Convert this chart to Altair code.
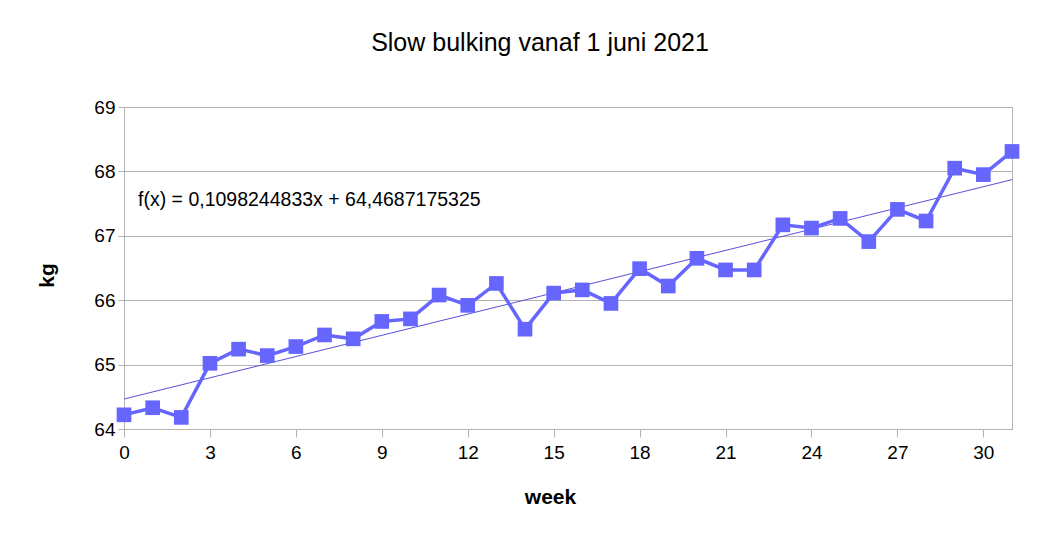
import altair as alt
import pandas as pd

weeks = list(range(32))
kg = [64.22, 64.33, 64.18, 65.02, 65.24, 65.14, 65.28, 65.46, 65.40, 65.67,
      65.71, 66.08, 65.92, 66.26, 65.55, 66.11, 66.16, 65.95, 66.49, 66.22,
      66.65, 66.47, 66.47, 67.17, 67.12, 67.27, 66.91, 67.41, 67.23, 68.05,
      67.95, 68.31]
x_ticks = list(range(0, 31, 3))
y_ticks = [64, 65, 66, 67, 68, 69]
title = "Slow bulking vanaf 1 juni 2021"
formula = "f(x) = 0,1098244833x + 64,4687175325"

df = pd.DataFrame({"week": weeks, "kg": kg})

FONT = "Liberation Sans"
COL = "#6666ff"
GRID = "#b3b3b3"

x_enc = alt.X("week:Q", scale=alt.Scale(domain=[0, 31], nice=False, zero=False),
              axis=alt.Axis(values=x_ticks, title="week", titleX=426, titleY=68,
                            titleBaseline="middle", grid=False, format="d",
                            tickSize=8, labelPadding=6, labelFlush=False))
y_enc = alt.Y("kg:Q", scale=alt.Scale(domain=[64, 69], nice=False, zero=False),
              axis=alt.Axis(values=y_ticks, title="kg", titleX=-77, titleY=168,
                            titleAngle=270, titleBaseline="middle", titleAlign="center",
                            tickSize=6, labelPadding=3, format="d", labelFlush=False))

base = alt.Chart(df)

line = base.mark_line(color=COL, strokeWidth=3.5).encode(x=x_enc, y=y_enc)
pts = base.mark_point(shape="square", filled=True, size=215, color=COL, opacity=1).encode(
    x="week:Q", y="kg:Q")
trend = base.transform_regression("week", "kg", extent=[0, 31]).mark_line(
    color="#5a50d8", strokeWidth=1).encode(x="week:Q", y="kg:Q")
txt = alt.Chart(pd.DataFrame({"t": [formula]})).mark_text(
    align="left", baseline="alphabetic", fontSize=19.5, font=FONT, color="black").encode(
    text="t:N", x=alt.value(14), y=alt.value(99))

chart = alt.layer(trend, line, pts, txt).properties(
    width=888, height=322,
    background="white",
    title=alt.TitleParams(title, fontSize=25, font=FONT, fontWeight="normal",
                          anchor="middle", dx=-28, offset=42, color="black"),
    autosize=alt.AutoSizeParams(type="none"),
    padding={"left": 116, "top": 99, "right": 39, "bottom": 108},
).configure_view(stroke=GRID, strokeWidth=1).configure_axis(
    labelFont=FONT, titleFont=FONT, labelFontSize=19, titleFontSize=21,
    titleFontWeight="bold", labelColor="black", titleColor="black",
    domainColor=GRID, tickColor=GRID, gridColor=GRID, gridWidth=1, gridOpacity=1,
)

chart.save("out.html", embed_options={"renderer": "svg", "actions": False})
